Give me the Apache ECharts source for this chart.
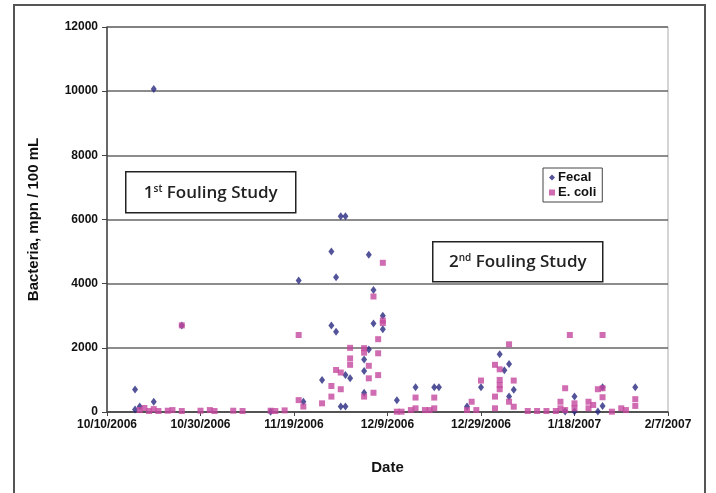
<!DOCTYPE html>
<html>
<head>
<meta charset="utf-8">
<script src="https://cdn.jsdelivr.net/npm/echarts@6/dist/echarts.min.js"></script>
<style>
  html, body { margin: 0; padding: 0; background: #fff; }
  #main { width: 716px; height: 493px; }
</style>
</head>
<body>
<div id="main"></div>
<script>
// 数据
const fecalDates = ['10/16/2006', '10/16/2006', '10/17/2006', '10/20/2006', '10/20/2006', '10/26/2006',
    '11/14/2006', '11/20/2006', '11/21/2006', '11/25/2006', '11/27/2006', '11/27/2006', '11/28/2006',
    '11/28/2006', '11/29/2006', '11/30/2006', '11/29/2006', '11/30/2006', '11/30/2006', '12/1/2006',
    '12/4/2006', '12/4/2006', '12/4/2006', '12/5/2006', '12/5/2006', '12/6/2006', '12/6/2006',
    '12/8/2006', '12/8/2006', '12/11/2006', '12/15/2006', '12/19/2006', '12/20/2006', '12/26/2006',
    '12/29/2006', '1/2/2007', '1/4/2007', '1/3/2007', '1/5/2007', '1/4/2007', '1/16/2007', '1/18/2007',
    '1/18/2007', '1/24/2007', '1/24/2007', '1/23/2007', '1/31/2007'];
const fecalValues = [700, 80, 170, 320, 10070, 2700,
    10, 4100, 320, 1000, 5000, 2700, 4200,
    2500, 6100, 6100, 170, 170, 1150, 1050,
    600, 1280, 1640, 1950, 4900, 3800, 2760,
    3000, 2580, 370, 770, 770, 770, 170,
    770, 1800, 1500, 1300, 690, 480, 15, 480,
    15, 770, 190, 15, 770];

const ecoliDates = ['10/17/2006', '10/18/2006', '10/19/2006', '10/20/2006', '10/21/2006', '10/23/2006',
    '10/24/2006', '10/26/2006', '10/26/2006', '10/30/2006', '11/1/2006', '11/2/2006', '11/6/2006',
    '11/8/2006', '11/14/2006', '11/15/2006', '11/17/2006', '11/20/2006', '11/20/2006', '11/21/2006',
    '11/25/2006', '11/27/2006', '11/27/2006', '11/28/2006', '11/29/2006', '11/29/2006', '12/1/2006',
    '12/1/2006', '12/1/2006', '12/4/2006', '12/4/2006', '12/4/2006', '12/5/2006', '12/5/2006',
    '12/6/2006', '12/6/2006', '12/7/2006', '12/7/2006', '12/7/2006', '12/8/2006', '12/8/2006',
    '12/8/2006', '12/11/2006', '12/12/2006', '12/14/2006', '12/15/2006', '12/15/2006', '12/17/2006',
    '12/18/2006', '12/19/2006', '12/19/2006', '12/26/2006', '12/27/2006', '12/28/2006', '12/29/2006',
    '1/1/2007', '1/1/2007', '1/1/2007', '1/2/2007', '1/2/2007', '1/2/2007', '1/2/2007', '1/4/2007',
    '1/5/2007', '1/4/2007', '1/5/2007', '1/8/2007', '1/10/2007', '1/12/2007', '1/14/2007', '1/15/2007',
    '1/15/2007', '1/16/2007', '1/16/2007', '1/17/2007', '1/18/2007', '1/18/2007', '1/21/2007',
    '1/21/2007', '1/22/2007', '1/23/2007', '1/24/2007', '1/24/2007', '1/24/2007', '1/26/2007',
    '1/28/2007', '1/29/2007', '1/31/2007', '1/31/2007'];
const ecoliValues = [60, 125, 30, 90, 30, 40,
    60, 30, 2700, 40, 60, 30, 40,
    30, 40, 30, 50, 2400, 370, 170,
    270, 810, 480, 1310, 710, 1230, 2000,
    1670, 1470, 1990, 1850, 480, 1440, 1050,
    600, 3600, 2270, 1830, 1150, 2850, 2770,
    4650, 10, 10, 60, 115, 450, 60,
    60, 115, 450, 60, 320, 60, 980,
    115, 480, 1470, 1000, 840, 710, 1330, 2110,
    980, 320, 165, 30, 30, 30, 30, 320,
    115, 60, 740, 2400, 270, 115, 320,
    115, 220, 710, 740, 460, 2400, 10,
    115, 60, 190, 400];

const startDate = '10/10/2006';
const xTickDays = 20;   // 每 20 天一个刻度
const xMaxDays = 120;   // 到 2/7/2007
const yMax = 12000;
const yStep = 2000;

const DAY = 86400000;
function toUTC(s) {
    let p = s.split('/').map(Number);
    return Date.UTC(p[2], p[0] - 1, p[1]);
}
const base = toUTC(startDate);
function toDays(s) {
    return Math.round((toUTC(s) - base) / DAY);
}
function dayLabel(v) {
    let d = new Date(base + v * DAY);
    return (d.getUTCMonth() + 1) + '/' + d.getUTCDate() + '/' + d.getUTCFullYear();
}
function pairs(dates, values) {
    return dates.map((d, i) => [toDays(d), values[i]]);
}

function chart() {
    let myChart = echarts.init(document.querySelector('#main'));
    const boxText = {
        fontFamily: 'Open Sans',
        fontWeight: 600,
        fontSize: 17,
        fill: '#222',
        rich: {
            sup: { fontFamily: 'Open Sans', fontWeight: 600, fontSize: 10, verticalAlign: 'top', padding: [0, 0, 8, 0] },
            b: { fontFamily: 'Open Sans', fontWeight: 600, fontSize: 17 }
        }
    };
    let option = {
        backgroundColor: '#fff',
        animation: false,
        grid: {
            left: 107,
            right: 48,
            top: 27,
            bottom: 81,
            show: true,
            borderColor: '#aaa',
            borderWidth: 1
        },
        legend: {
            orient: 'vertical',
            left: 543,
            top: 168,
            padding: [3, 6, 3, 6],
            itemGap: 2,
            itemWidth: 6,
            itemHeight: 6,
            borderColor: '#444',
            borderWidth: 1,
            backgroundColor: '#fff',
            textStyle: {
                fontFamily: 'Liberation Sans',
                fontWeight: 'bold',
                fontSize: 13,
                color: '#111',
                padding: [0, 0, 0, -2]
            },
            data: [
                { name: 'Fecal', icon: 'diamond' },
                { name: 'E. coli', icon: 'rect' }
            ]
        },
        xAxis: {
            type: 'value',
            min: 0,
            max: xMaxDays,
            interval: xTickDays,
            name: 'Date',
            nameLocation: 'middle',
            nameGap: 48,
            nameTextStyle: { fontFamily: 'Liberation Sans', fontWeight: 'bold', fontSize: 15, color: '#111' },
            axisLine: { lineStyle: { color: '#444', width: 1.5 } },
            axisTick: { show: true, length: 4, lineStyle: { color: '#444' } },
            splitLine: { show: false },
            axisLabel: {
                margin: 7,
                formatter: dayLabel,
                fontFamily: 'Liberation Sans',
                fontWeight: 'bold',
                fontSize: 12,
                color: '#111'
            }
        },
        yAxis: {
            type: 'value',
            min: 0,
            max: yMax,
            interval: yStep,
            name: 'Bacteria, mpn / 100 mL',
            nameLocation: 'middle',
            nameGap: 66,
            nameTextStyle: { fontFamily: 'Liberation Sans', fontWeight: 'bold', fontSize: 15, color: '#111' },
            axisLine: { show: true, lineStyle: { color: '#444', width: 1.5 } },
            axisTick: { show: true, length: 5, lineStyle: { color: '#444' } },
            splitLine: { lineStyle: { color: '#666', width: 1.5 } },
            axisLabel: {
                margin: 9,
                formatter: v => String(v),
                fontFamily: 'Liberation Sans',
                fontWeight: 'bold',
                fontSize: 12,
                color: '#111'
            }
        },
        series: [
            {
                name: 'Fecal',
                type: 'scatter',
                symbol: 'diamond',
                symbolSize: [6, 8],
                itemStyle: { color: '#28287f' },
                data: pairs(fecalDates, fecalValues)
            },
            {
                name: 'E. coli',
                type: 'scatter',
                symbol: 'rect',
                symbolSize: 6,
                itemStyle: { color: '#c4479d' },
                data: pairs(ecoliDates, ecoliValues)
            }
        ],
        graphic: [
            {
                type: 'rect',
                shape: { x: 14, y: 5, width: 691, height: 520 },
                style: { fill: 'none', stroke: '#555', lineWidth: 2 },
                silent: true
            },
            {
                type: 'group',
                left: 125,
                top: 171,
                children: [
                    { type: 'rect', shape: { x: 0, y: 0, width: 170, height: 41 }, style: { fill: '#fff', stroke: '#222', lineWidth: 1.5 } },
                    {
                        type: 'text', x: 85, y: 21,
                        style: Object.assign({ text: '{b|1}{sup|st}{b| Fouling Study}', align: 'center', verticalAlign: 'middle' }, boxText)
                    }
                ]
            },
            {
                type: 'group',
                left: 432,
                top: 241,
                children: [
                    { type: 'rect', shape: { x: 0, y: 0, width: 170, height: 40 }, style: { fill: '#fff', stroke: '#222', lineWidth: 1.5 } },
                    {
                        type: 'text', x: 85, y: 20,
                        style: Object.assign({ text: '{b|2}{sup|nd}{b| Fouling Study}', align: 'center', verticalAlign: 'middle' }, boxText)
                    }
                ]
            }
        ]
    };
    myChart.setOption(option);
}
chart();
</script>
</body>
</html>
